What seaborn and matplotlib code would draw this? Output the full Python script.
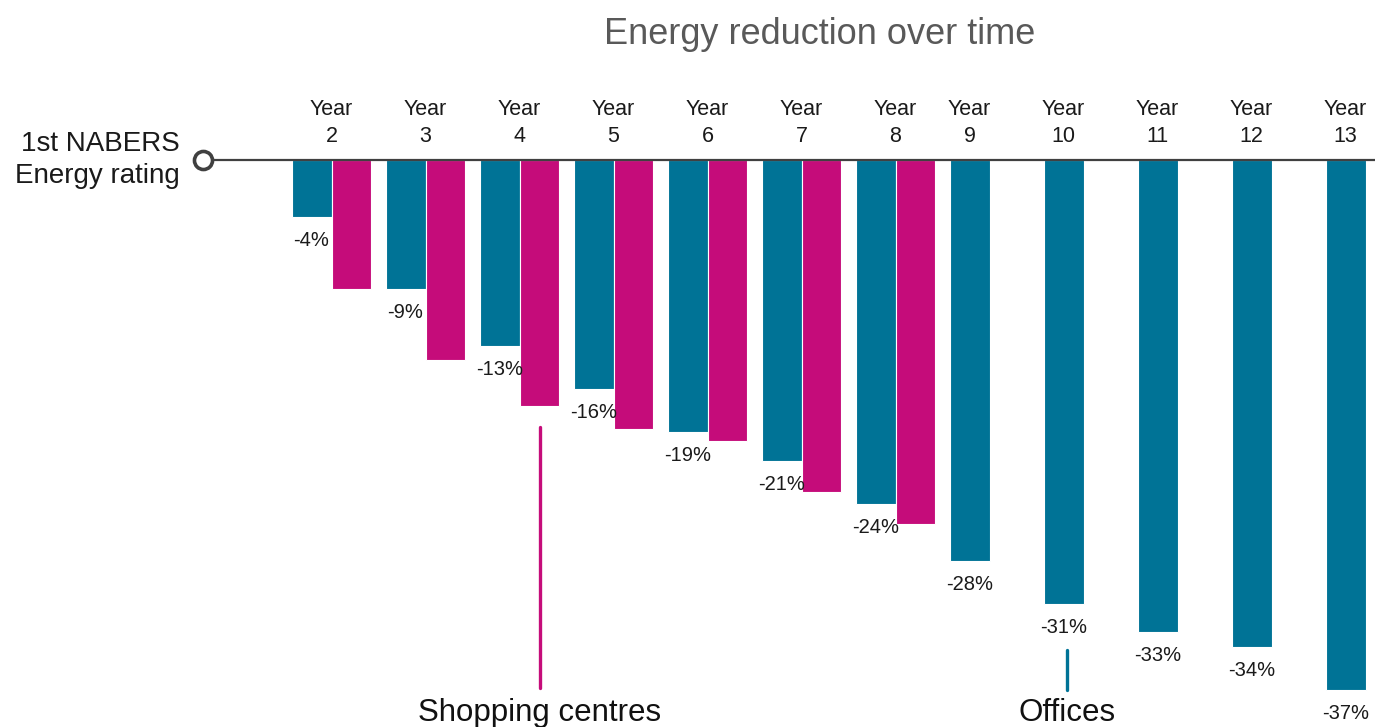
import matplotlib
matplotlib.use("Agg")
import matplotlib.pyplot as plt
import numpy as np
import pandas as pd
import seaborn as sns

# ---- data -------------------------------------------------------------
years = ["2", "3", "4", "5", "6", "7", "8", "9", "10", "11", "12", "13"]
offices = [-4, -9, -13, -16, -19, -21, -24, -28, -31, -33, -34, -37]
shopping = [-9.0, -14.0, -17.2, -18.8, -19.6, -23.2, -25.4,
            np.nan, np.nan, np.nan, np.nan, np.nan]
series = ["Offices", "Shopping centres"]

TEAL = "#007396"
MAGENTA = "#C50C7A"
DARK = "#404040"

df = pd.concat([
    pd.DataFrame({"year": years, "value": offices, "type": series[0]}),
    pd.DataFrame({"year": years, "value": shopping, "type": series[1]}),
]).dropna()

sns.set_theme(style="white")
plt.rcParams["font.family"] = ["Liberation Sans", "DejaVu Sans"]

fig = plt.figure(figsize=(13.75, 7.27), dpi=100)
ax = fig.add_axes([0, 0, 1, 1])

sns.barplot(data=df, x="year", y="value", hue="type", order=years,
            hue_order=series, palette=[TEAL, MAGENTA], saturation=1,
            width=0.85, dodge=True, errorbar=None, legend=False, ax=ax,
            edgecolor="white", linewidth=0.8)

ax.set_xlim(-3.527, 11.101)
ax.set_ylim(-39.6, 11.17)
ax.axis("off")

# value labels under the office bars
off_bars = ax.containers[0]
ax.bar_label(off_bars, labels=[f"{v:.0f}%" for v in offices], padding=10,
             fontsize=14.5, color="#1a1a1a")

# baseline with the starting-point marker
x0 = -1.367
ax.plot([x0, 11.2], [0, 0], color=DARK, lw=1.6, zorder=3, solid_capstyle="butt")
ax.plot([x0], [0], marker="o", ms=13, mfc="white", mec=DARK, mew=2.6,
        zorder=4, clip_on=False)
ax.text(-1.612, 0, "1st NABERS\nEnergy rating", ha="right", va="center",
        fontsize=20, color="#1a1a1a", linespacing=1.3)

# year headings: centred on the pair, or on the single office bar
for i, (yr, s) in enumerate(zip(years, shopping)):
    if np.isnan(s):
        b = off_bars[i]
        xc = b.get_x() + b.get_width() / 2
    else:
        xc = i
    ax.annotate(f"Year\n{yr}", xy=(xc, 0), xytext=(0, 18),
                textcoords="offset pixels", ha="center", va="baseline",
                fontsize=15.5, color="#1a1a1a", linespacing=1.4)

# series call-outs
shop_bars = ax.containers[1]
sb = shop_bars[2]
sx = sb.get_x() + sb.get_width() / 2
ax.plot([sx, sx], [-18.65, -36.9], color=MAGENTA, lw=2.4)
ax.text(sx, -39.2, "Shopping centres", ha="center", va="baseline",
        fontsize=22.5, color="#111111")

ob = off_bars[8]
ox = ob.get_x() + ob.get_width() / 2 + 0.035
ax.plot([ox, ox], [-34.2, -37.0], color=TEAL, lw=2.4)
ax.text(ox, -39.2, "Offices", ha="center", va="baseline",
        fontsize=22.5, color="#111111")

fig.text(820 / 1375, 1 - 35 / 727, "Energy reduction over time",
         ha="center", va="center", fontsize=26, color="#595959")

fig.savefig("out.png", dpi=100)
